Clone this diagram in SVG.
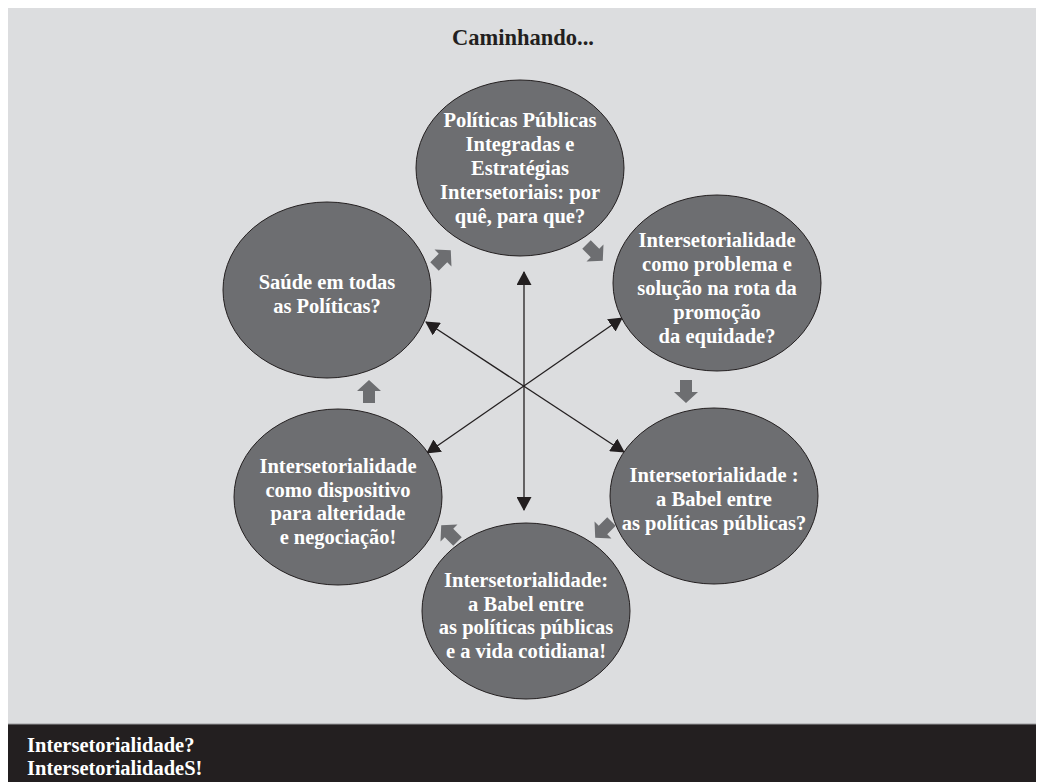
<svg xmlns="http://www.w3.org/2000/svg" width="1044" height="782" viewBox="0 0 1044 782">
<style>
.node ellipse{fill:#6d6e71;stroke:#231f20;stroke-width:1}
.lbl{font-family:"Liberation Serif","Times New Roman",serif;font-weight:bold;font-size:20.5px;fill:#ffffff;text-anchor:middle}
.title{font-family:"Liberation Serif","Times New Roman",serif;font-weight:bold;font-size:22.5px;fill:#231f20;text-anchor:middle}
.foot{font-family:"Liberation Serif","Times New Roman",serif;font-weight:bold;font-size:20.5px;fill:#ffffff}
.blk{fill:#6d6e71}
.ln{stroke:#231f20;stroke-width:1.3;fill:none;marker-start:url(#ah);marker-end:url(#ah)}
</style>
<defs>
<marker id="ah" viewBox="0 0 14 15" refX="13" refY="7.5" markerWidth="14" markerHeight="15" markerUnits="userSpaceOnUse" orient="auto-start-reverse">
<path d="M0,0 L14,7.5 L0,15 Z" fill="#231f20"/>
</marker>
<path id="blockarrow" d="M-6,-12 H6 V0 H12 L0,11 L-12,0 H-6 Z"/>
</defs>
<rect x="0" y="0" width="1044" height="782" fill="#ffffff"/>
<rect x="8" y="8" width="1028" height="716" fill="#dcdddf"/>
<rect x="8" y="724" width="1028" height="58" fill="#231f20"/>
<line x1="8" y1="724" x2="1036" y2="724" stroke="#9a9a9c" stroke-width="1"/>
<text class="title" x="523" y="45">Caminhando...</text>

<g id="connectors">
<line class="ln" x1="524" y1="272" x2="524" y2="510"/>
<line class="ln" x1="426" y1="322" x2="624" y2="452"/>
<line class="ln" x1="622" y1="318" x2="427" y2="453"/>
<use href="#blockarrow" class="blk" transform="translate(443,258) rotate(-135)"/>
<use href="#blockarrow" class="blk" transform="translate(595,253) rotate(-45)"/>
<use href="#blockarrow" class="blk" transform="translate(686,392)"/>
<use href="#blockarrow" class="blk" transform="translate(603,530) rotate(45)"/>
<use href="#blockarrow" class="blk" transform="translate(449,533) rotate(135)"/>
<use href="#blockarrow" class="blk" transform="translate(369,391) rotate(180)"/>
</g>

<g id="node-top" class="node">
<ellipse cx="520" cy="168" rx="104" ry="88"/>
<text class="lbl" x="520" y="127">Políticas Públicas<tspan x="520" dy="24">Integradas e</tspan><tspan x="520" dy="24">Estratégias</tspan><tspan x="520" dy="24">Intersetoriais: por</tspan><tspan x="520" dy="24">quê, para que?</tspan></text>
</g>

<g id="node-upper-right" class="node">
<ellipse cx="717" cy="283" rx="104" ry="88"/>
<text class="lbl" x="717" y="247">Intersetorialidade<tspan x="717" dy="24">como problema e</tspan><tspan x="717" dy="24">solução na rota da</tspan><tspan x="717" dy="24">promoção</tspan><tspan x="717" dy="24">da equidade?</tspan></text>
</g>

<g id="node-lower-right" class="node">
<ellipse cx="714" cy="496" rx="104" ry="88"/>
<text class="lbl" x="714" y="482">Intersetorialidade :<tspan x="714" dy="24">a Babel entre</tspan><tspan x="714" dy="24">as políticas públicas?</tspan></text>
</g>

<g id="node-bottom" class="node">
<ellipse cx="526" cy="611" rx="104" ry="88"/>
<text class="lbl" x="526" y="587">Intersetorialidade:<tspan x="526" dy="23.7">a Babel entre</tspan><tspan x="526" dy="23.7">as políticas públicas</tspan><tspan x="526" dy="23.7">e a vida cotidiana!</tspan></text>
</g>

<g id="node-lower-left" class="node">
<ellipse cx="338" cy="497" rx="104" ry="88"/>
<text class="lbl" x="338" y="473">Intersetorialidade<tspan x="338" dy="23.7">como dispositivo</tspan><tspan x="338" dy="23.7">para alteridade</tspan><tspan x="338" dy="23.7">e negociação!</tspan></text>
</g>

<g id="node-upper-left" class="node">
<ellipse cx="327" cy="290" rx="104" ry="88"/>
<text class="lbl" x="327" y="289">Saúde em todas<tspan x="327" dy="23.5">as Políticas?</tspan></text>
</g>

<g id="footer">
<text class="foot" x="27" y="752">Intersetorialidade?<tspan x="27" dy="23">IntersetorialidadeS!</tspan></text>
</g>
</svg>
